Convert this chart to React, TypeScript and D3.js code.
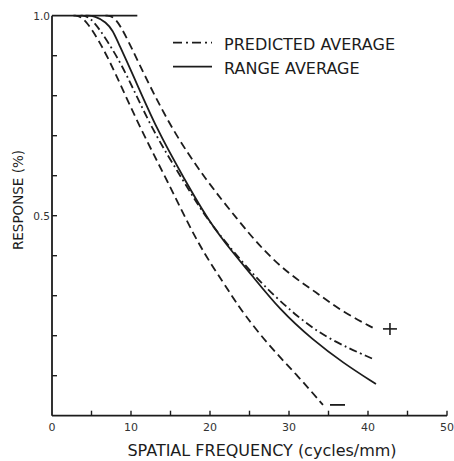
import React from "react";
import * as d3 from "d3";

// Spatial frequency (cycles/mm) and response for each curve
const upperBoundF = [7.97, 9.62, 11.39, 15.19, 19.49, 23.54, 26.71, 30.13, 33.54, 36.84, 40.89];
const upperBoundR = [1.0, 0.939, 0.864, 0.714, 0.589, 0.489, 0.414, 0.352, 0.307, 0.259, 0.217];

const lowerBoundF = [3.92, 6.08, 7.85, 11.27, 14.56, 18.23, 20.63, 22.53, 24.18, 27.59, 31.01, 34.3];
const lowerBoundR = [1.0, 0.934, 0.864, 0.714, 0.589, 0.439, 0.364, 0.307, 0.257, 0.172, 0.102, 0.027];

const predictedF = [4.81, 6.96, 9.24, 12.66, 16.58, 19.62, 24.18, 26.71, 31.01, 35.19, 40.63];
const predictedR = [1.0, 0.939, 0.864, 0.714, 0.589, 0.489, 0.382, 0.327, 0.247, 0.189, 0.142];

const rangeAvgF = [5.44, 6.84, 7.72, 8.23, 10.0, 13.29, 16.84, 19.75, 22.91, 25.06, 28.86, 33.04, 36.84, 41.01];
const rangeAvgR = [1.0, 0.984, 0.962, 0.939, 0.864, 0.714, 0.589, 0.489, 0.407, 0.357, 0.264, 0.189, 0.132, 0.079];

// Top line at 100% response
const topLineF = [0, 10.8];

// "+" and "−" markers
const plusMarker = { f: 42.78, r: 0.217 };
const minusMarker = { f: 36.14, r: 0.027 };

const xTickLabels = [0, 10, 20, 30, 40, 50];
const xTickMarks = [5, 10, 15, 20, 25, 30, 35, 40, 45, 50];
const yTickMarks = [0.1, 0.2, 0.3, 0.4, 0.5, 0.6, 0.7, 0.8, 0.9];
const yTickLabels = [
  { v: 1.0, t: "1.0" },
  { v: 0.5, t: "0.5" },
];

const legendItems = [
  { label: "PREDICTED AVERAGE", dash: "9,4,2,4" },
  { label: "RANGE AVERAGE", dash: "none" },
];

const W = 454;
const H = 461;
const INK = "#1c1c1c";
const FONT = "'DejaVu Sans', sans-serif";

export default function App() {
  const x = d3.scaleLinear().domain([0, 50]).range([52, 447]);
  const y = d3.scaleLinear().domain([0, 1]).range([415.7, 15.7]);

  const mk = (fs: number[], rs: number[]) => {
    const pts: [number, number][] = fs.map((f, i) => [f, rs[i]]);
    pts.unshift([fs[0] - 1.2, 1.0]);
    return d3
      .line<[number, number]>()
      .x((d) => x(d[0]))
      .y((d) => y(d[1]))
      .curve(d3.curveBasis)(pts) as string;
  };

  const curves = [
    { d: mk(upperBoundF, upperBoundR), dash: "8,4.5" },
    { d: mk(lowerBoundF, lowerBoundR), dash: "8,4.5" },
    { d: mk(predictedF, predictedR), dash: "8,3.5,1.8,3.5" },
    { d: mk(rangeAvgF, rangeAvgR), dash: "none" },
  ];

  const px = x(plusMarker.f);
  const py = y(plusMarker.r);
  const mx = x(minusMarker.f);
  const my = y(minusMarker.r);

  return (
    <svg
      width={W}
      height={H}
      style={{ position: "absolute", left: 0, top: 0, background: "#fff" }}
    >
      <rect width={W} height={H} fill="#fff" />
      {/* axes */}
      <line x1={x(0)} x2={x(50)} y1={y(0)} y2={y(0)} stroke={INK} strokeWidth={1.8} />
      <line x1={x(0)} x2={x(0)} y1={y(0)} y2={y(1)} stroke={INK} strokeWidth={1.8} />
      <line
        x1={x(topLineF[0])}
        x2={x(topLineF[1])}
        y1={y(1)}
        y2={y(1)}
        stroke={INK}
        strokeWidth={1.8}
      />
      {xTickMarks.map((v) => (
        <line key={"xt" + v} x1={x(v)} x2={x(v)} y1={y(0)} y2={y(0) - 5} stroke={INK} strokeWidth={1.4} />
      ))}
      {yTickMarks.map((v) => (
        <line key={"yt" + v} x1={x(0)} x2={x(0) + 5} y1={y(v)} y2={y(v)} stroke={INK} strokeWidth={1.4} />
      ))}
      {xTickLabels.map((v) => (
        <text
          key={"xl" + v}
          x={x(v)}
          y={431}
          textAnchor="middle"
          fontFamily={FONT}
          fontSize={11}
          fill="#333"
        >
          {v}
        </text>
      ))}
      {yTickLabels.map((d) => (
        <text
          key={"yl" + d.t}
          x={x(0) - 2}
          y={y(d.v) + 4}
          textAnchor="end"
          fontFamily={FONT}
          fontSize={10.5}
          fill="#333"
        >
          {d.t}
        </text>
      ))}
      <text
        x={262}
        y={456}
        textAnchor="middle"
        fontFamily={FONT}
        fontSize={16}
        fill={INK}
      >
        SPATIAL FREQUENCY (cycles/mm)
      </text>
      <text
        transform="translate(23,200) rotate(-90)"
        textAnchor="middle"
        fontFamily={FONT}
        fontSize={13.5}
        fill={INK}
      >
        RESPONSE (%)
      </text>

      {/* curves */}
      {curves.map((c, i) => (
        <path
          key={i}
          d={c.d}
          fill="none"
          stroke={INK}
          strokeWidth={1.8}
          strokeDasharray={c.dash}
        />
      ))}

      {/* markers */}
      <line x1={px - 7} x2={px + 7} y1={py} y2={py} stroke={INK} strokeWidth={1.6} />
      <line x1={px} x2={px} y1={py - 6} y2={py + 6} stroke={INK} strokeWidth={1.6} />
      <line x1={mx - 7.5} x2={mx + 7.5} y1={my} y2={my} stroke={INK} strokeWidth={1.8} />

      {/* legend */}
      {legendItems.map((it, i) => (
        <g key={it.label} transform={`translate(0,${42.7 + i * 24})`}>
          <line x1={173} x2={212} y1={0} y2={0} stroke={INK} strokeWidth={1.8} strokeDasharray={it.dash} />
          <text x={224} y={7.5} fontFamily={FONT} fontSize={16} fill={INK}>
            {it.label}
          </text>
        </g>
      ))}
    </svg>
  );
}
